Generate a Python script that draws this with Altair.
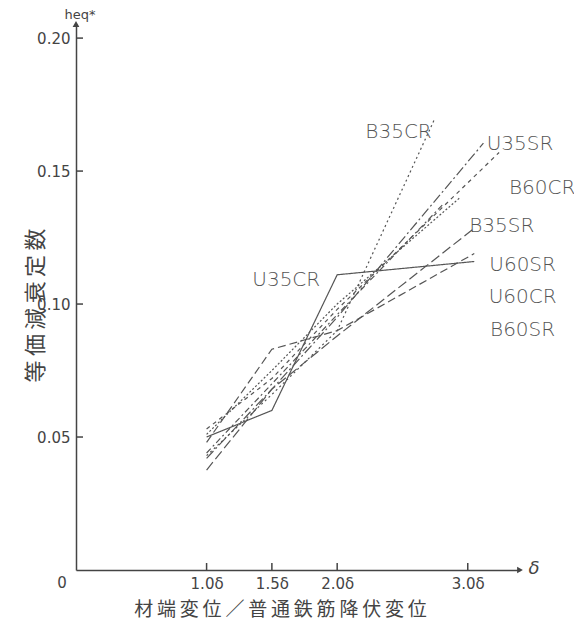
import altair as alt
import pandas as pd

# ---- data ----
series = ["B35CR", "U35SR", "B60CR", "B35SR", "B60SR", "U60SR", "U60CR", "U35CR"]
xs = {
    "B35CR": [1.0, 1.5, 2.0, 2.75],
    "U35SR": [1.0, 1.5, 2.0, 3.12],
    "B60CR": [1.0, 1.5, 2.0, 3.24],
    "B35SR": [1.0, 1.5, 2.0, 2.94],
    "B60SR": [1.0, 1.5, 2.0, 2.82],
    "U60SR": [1.0, 1.5, 2.0, 3.05],
    "U60CR": [1.0, 1.5, 2.0, 3.05],
    "U35CR": [1.0, 1.5, 2.0, 3.05],
}
ys = {
    "B35CR": [0.043, 0.066, 0.090, 0.170],
    "U35SR": [0.042, 0.068, 0.095, 0.1605],
    "B60CR": [0.053, 0.072, 0.098, 0.157],
    "B35SR": [0.051, 0.075, 0.100, 0.140],
    "B60SR": [0.044, 0.070, 0.096, 0.138],
    "U60SR": [0.0376, 0.068, 0.088, 0.1285],
    "U60CR": [0.048, 0.083, 0.090, 0.119],
    "U35CR": [0.050, 0.060, 0.111, 0.116],
}
dashes = [[2, 3], [10, 3, 2, 3], [4, 4], [2, 2], [6, 3, 2, 3], [10, 4], [8, 4], [1, 0]]

label_x = [2.47, 3.40, 3.57, 3.26, 3.42, 3.42, 3.42, 1.61]
label_y = [0.1647, 0.160, 0.1436, 0.1293, 0.0902, 0.1147, 0.1026, 0.109]
label_txt = ["B35CR", "U35SR", "B60CR", "B35SR", "B60SR", "U60SR", "U60CR", "U35CR"]

x_ticks = [1.0, 1.5, 2.0, 3.0]
y_ticks = [0.05, 0.10, 0.15, 0.20]
X_MAX = 3.4
Y_MAX = 0.2053

x_title = "\u2009".join("材端変位／普通鉄筋降伏変位")
y_title = "\u2009".join("等価減衰定数")

rows = []
for s in series:
    for i, (a, b) in enumerate(zip(xs[s], ys[s])):
        rows.append({"series": s, "x": a, "y": b, "order": i})
df = pd.DataFrame(rows)
labels = pd.DataFrame({"x": label_x, "y": label_y, "t": label_txt})

W, H = 444, 546
GRAY = "#555555"
FONT = "DejaVu Sans"
CJK = "Noto Sans CJK JP"

xscale = alt.Scale(domain=[0, X_MAX], nice=False, zero=True)
yscale = alt.Scale(domain=[0, Y_MAX], nice=False, zero=True)

xaxis = alt.Axis(
    values=x_ticks, labelExpr="format(datum.value, '.1f') + 'δ'", ticks=False,
    grid=False, domainColor="#444", domainWidth=1.5, labelFontSize=15,
    labelColor="#444", labelFont=FONT, labelPadding=6,
    title=x_title, titleFont=CJK,
    titleFontSize=19, titleFontWeight="normal", titleColor="#444",
    titleX=204, titleY=39, titleBaseline="middle")
yaxis = alt.Axis(
    values=y_ticks, format=".2f", ticks=False, grid=False,
    domainColor="#444", domainWidth=1.5, labelFontSize=15, labelColor="#444",
    labelFont=FONT, labelPadding=6,
    title=y_title, titleFont=CJK, titleFontSize=22,
    titleFontWeight="normal", titleColor="#444", titleAngle=270,
    titleX=-41, titleY=281, titleAlign="center", titleBaseline="middle")


def X(f):
    return alt.X(f, scale=xscale, axis=xaxis)


def Y(f):
    return alt.Y(f, scale=yscale, axis=yaxis)


lines = alt.Chart(df).mark_line(color=GRAY, strokeWidth=1.2, clip=False).encode(
    x=X("x:Q"),
    y=Y("y:Q"),
    detail="series:N",
    order="order:Q",
    strokeDash=alt.StrokeDash("series:N", scale=alt.Scale(domain=series, range=dashes), legend=None),
)

text = alt.Chart(labels).mark_text(font=FONT, fontSize=20, color="#555", fontWeight=300).encode(
    x=X("x:Q"), y=Y("y:Q"), text="t:N",
)

ytk = alt.Chart(pd.DataFrame({"y": y_ticks})).mark_rule(color="#444", strokeWidth=1.5).encode(
    y=Y("y:Q"), x=alt.value(0), x2=alt.value(7))
xtk = alt.Chart(pd.DataFrame({"x": x_ticks})).mark_rule(color="#444", strokeWidth=1.5).encode(
    x=X("x:Q"), y=alt.value(H), y2=alt.value(H - 7))

arrows = alt.Chart(pd.DataFrame({"x": [0, X_MAX], "y": [Y_MAX, 0], "s": ["triangle-up", "triangle-right"]})).mark_point(
    filled=True, color="#444", size=45, opacity=1, clip=False).encode(
    x=X("x:Q"), y=Y("y:Q"),
    shape=alt.Shape("s:N", scale=None, legend=None))

misc = pd.DataFrame({"x": [0, 0, X_MAX], "y": [0, Y_MAX, 0], "t": ["0", "heq*", "δ"]})
m0 = alt.Chart(misc.iloc[[0]]).mark_text(font=FONT, fontSize=15, color="#444", dx=-14, dy=13).encode(
    x=X("x:Q"), y=Y("y:Q"), text="t:N")
m1 = alt.Chart(misc.iloc[[1]]).mark_text(font=FONT, fontSize=13, color="#444", dx=4, dy=-5,
                                         baseline="alphabetic").encode(
    x=X("x:Q"), y=Y("y:Q"), text="t:N")
m2 = alt.Chart(misc.iloc[[2]]).mark_text(font=FONT, fontSize=18, fontStyle="italic", color="#444", dx=14, dy=-1).encode(
    x=X("x:Q"), y=Y("y:Q"), text="t:N")

chart = alt.layer(lines, ytk, xtk, arrows, text, m0, m1, m2).properties(
    width=W, height=H,
    autosize=alt.AutoSizeParams(type="none"),
    padding={"left": 68, "top": 16, "right": 54, "bottom": 50},
    background="white",
).configure_view(stroke=None)

chart.save("out.html", embed_options={"renderer": "svg", "actions": False})
